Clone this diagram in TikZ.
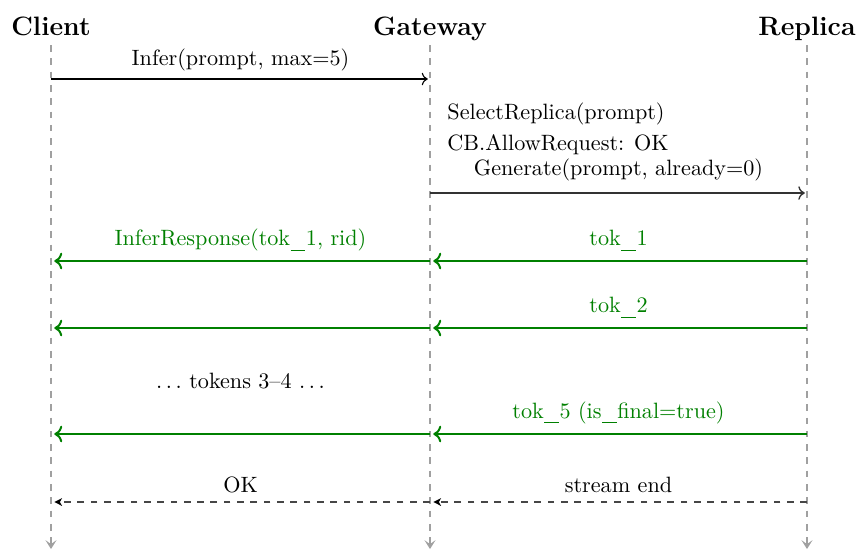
\documentclass[tikz,border=0pt]{standalone}
\usetikzlibrary{arrows.meta}
\definecolor{grn}{RGB}{0,128,0}
\definecolor{lifegray}{RGB}{160,160,160}
\definecolor{retgray}{RGB}{70,70,70}
\newcommand\usc{\leavevmode\kern.02em\rule[-2.4pt]{0.66em}{0.45pt}\kern.03em}
\begin{document}
\begin{tikzpicture}[x=0.451pt,y=-0.451pt,
  head/.style={font=\large\bfseries, anchor=base, inner sep=0pt},
  life/.style={draw=lifegray, line width=1.35pt, dashed, -{Stealth[length=4pt,width=5pt,inset=1.8pt]}},
  msg/.style={->, draw=black, line width=0.5pt, shorten >=1pt},
  msgb/.style={->, draw=black!80, line width=0.6pt, shorten >=1pt},
  resp/.style={->, draw=grn, line width=0.9pt, shorten >=1.5pt},
  ret/.style={-{Stealth[length=3.5pt,width=3.5pt,inset=1pt,color=black]}, draw=retgray, dashed, line width=0.6pt, shorten >=1.5pt},
  lbl/.style={anchor=base, inner sep=0pt},
  glbl/.style={anchor=base, inner sep=0pt, text=grn},
  note/.style={anchor=base west, inner sep=0pt},
]
\useasboundingbox (0,0) rectangle (859,550);

% headers
\node[head] (client) at (51,35) {Client};
\node[head] (gateway) at (430,35) {Gateway};
\node[head] (replica) at (807,35) {Replica};

% lifelines
\coordinate (ct) at (51,45);   \coordinate (cb) at (51,549);
\coordinate (gt) at (430,45);  \coordinate (gb) at (430,549);
\coordinate (rt) at (807,45);  \coordinate (rb) at (807,549);
\draw[life] (ct) -- (cb);
\draw[life] (gt) -- (gb);
\draw[life] (rt) -- (rb);

% message anchor points
\foreach \y/\n in {79/1,193/2,261/3,328/4,434/5,502/6}{
  \coordinate (c\n) at (51,\y);
  \coordinate (g\n) at (430,\y);
  \coordinate (r\n) at (807,\y);
}

% Infer
\draw[msg] (c1) -- node[lbl, yshift=6.3pt] {Infer(prompt, max=5)} (g1);

% gateway notes
\node[note] (sel) at (447,119) {SelectReplica(prompt)};
\node[note] (cbn) at (447,150) {CB.AllowRequest: OK};

% Generate
\draw[msgb] (g2) -- node[lbl, yshift=7.8pt] {Generate(prompt, already=0)} (r2);

% tokens
\draw[resp] (r3) -- node[glbl, yshift=7pt] {tok\usc 1} (g3);
\draw[resp] (g3) -- node[glbl, yshift=7pt] {InferResponse(tok\usc 1, rid)} (c3);
\draw[resp] (r4) -- node[glbl, yshift=7pt] {tok\usc 2} (g4);
\draw[resp] (g4) -- (c4);

\node[lbl] (mid) at (240.5,388) {$\ldots$ tokens 3--4 $\ldots$};

\draw[resp] (r5) -- node[glbl, yshift=7.2pt] {tok\usc 5 (is\usc final=true)} (g5);
\draw[resp] (g5) -- (c5);

% stream end
\draw[ret] (r6) -- node[lbl, yshift=4.5pt] {stream end} (g6);
\draw[ret] (g6) -- node[lbl, yshift=4.5pt] {OK} (c6);
\end{tikzpicture}
\end{document}
